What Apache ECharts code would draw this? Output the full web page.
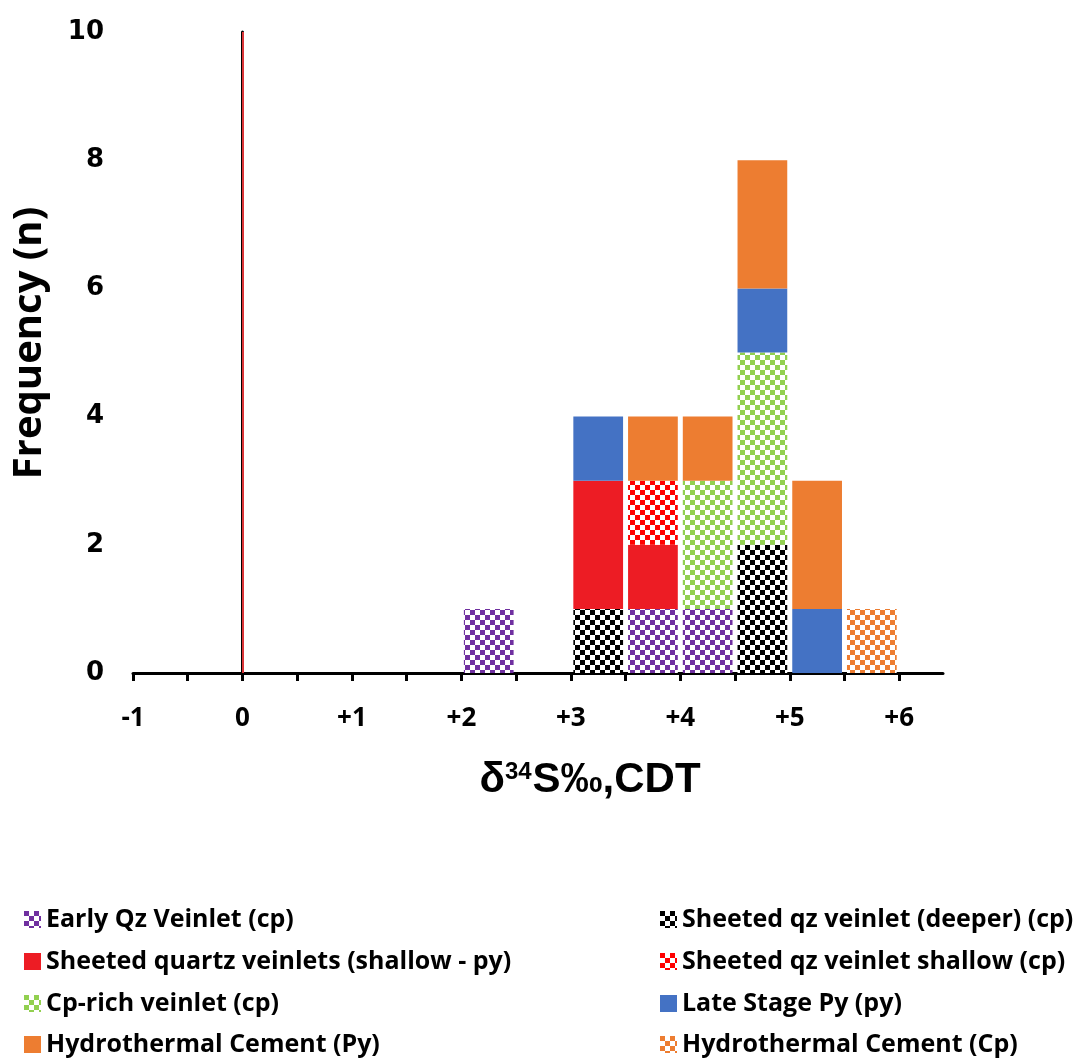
<!DOCTYPE html>
<html>
<head>
<meta charset="utf-8">
<script src="https://cdn.jsdelivr.net/npm/echarts@6/dist/echarts.min.js"></script>
<style>
  html, body { margin: 0; padding: 0; background: #ffffff; }
  #chart { width: 1080px; height: 1060px; }
</style>
</head>
<body>
<div id="chart"></div>
<script>
// δ34S histogram: lower edge of each 0.5‰ bin
const binStarts = [-1, -0.5, 0, 0.5, 1, 1.5, 2, 2.5, 3, 3.5, 4, 4.5, 5, 5.5, 6];
const binWidth = 0.5;

// Sample counts per bin for each group (stacked bottom to top in this order)
const earlyQzCp       = [0, 0, 0, 0, 0, 0, 1, 0, 0, 1, 1, 0, 0, 0, 0];
const sheetedDeeperCp = [0, 0, 0, 0, 0, 0, 0, 0, 1, 0, 0, 2, 0, 0, 0];
const sheetedShallowPy= [0, 0, 0, 0, 0, 0, 0, 0, 2, 1, 0, 0, 0, 0, 0];
const sheetedShallowCp= [0, 0, 0, 0, 0, 0, 0, 0, 0, 1, 0, 0, 0, 0, 0];
const cpRichCp        = [0, 0, 0, 0, 0, 0, 0, 0, 0, 0, 2, 3, 0, 0, 0];
const lateStagePy     = [0, 0, 0, 0, 0, 0, 0, 0, 1, 0, 0, 1, 1, 0, 0];
const hydroCementPy   = [0, 0, 0, 0, 0, 0, 0, 0, 0, 1, 1, 2, 2, 0, 0];
const hydroCementCp   = [0, 0, 0, 0, 0, 0, 0, 0, 0, 0, 0, 0, 0, 1, 0];

// Axis ticks and labels
const xLabelValues = [-1, 0, 1, 2, 3, 4, 5, 6];
const xTickValues = [-1, -0.5, 0, 0.5, 1, 1.5, 2, 2.5, 3, 3.5, 4, 4.5, 5, 5.5, 6];
const yTickValues = [0, 2, 4, 6, 8, 10];
const referenceValue = 0;

const groupNames = [
  'Early Qz Veinlet (cp)',
  'Sheeted qz veinlet (deeper) (cp)',
  'Sheeted quartz veinlets (shallow - py)',
  'Sheeted qz veinlet shallow (cp)',
  'Cp-rich veinlet (cp)',
  'Late Stage Py (py)',
  'Hydrothermal Cement (Py)',
  'Hydrothermal Cement (Cp)'
];
const groupCounts = [earlyQzCp, sheetedDeeperCp, sheetedShallowPy, sheetedShallowCp,
                     cpRichCp, lateStagePy, hydroCementPy, hydroCementCp];

// checkerboard fill used for the chalcopyrite (cp) groups
function checker(color) {
  const cell = 5;
  const c = document.createElement('canvas');
  c.width = cell * 2; c.height = cell * 2;
  const ctx = c.getContext('2d');
  ctx.fillStyle = '#ffffff';
  ctx.fillRect(0, 0, c.width, c.height);
  ctx.fillStyle = color;
  ctx.fillRect(0, 0, cell, cell);
  ctx.fillRect(cell, cell, cell, cell);
  return { image: c, repeat: 'repeat' };
}

const groupFills = [
  checker('#7030A0'),
  checker('#000000'),
  '#ED1C24',
  checker('#FF0000'),
  checker('#92D050'),
  '#4472C4',
  '#ED7D31',
  checker('#ED7D31')
];

// stack the groups bin by bin: [binStart, binEnd, base, top]
const running = binStarts.map(() => 0);
const series = groupNames.map((name, g) => {
  const data = [];
  groupCounts[g].forEach((n, i) => {
    if (n > 0) {
      data.push([binStarts[i], binStarts[i] + binWidth, running[i], running[i] + n]);
      running[i] += n;
    }
  });
  return {
    name: name,
    type: 'custom',
    itemStyle: { color: groupFills[g] },
    encode: { x: [0, 1], y: [2, 3] },
    data: data,
    renderItem: function (params, api) {
      const topLeft = api.coord([api.value(0), api.value(3)]);
      const botRight = api.coord([api.value(1), api.value(2)]);
      const inset = 2.5;
      return {
        type: 'rect',
        shape: {
          x: topLeft[0] + inset,
          y: topLeft[1],
          width: botRight[0] - topLeft[0] - 2 * inset,
          height: botRight[1] - topLeft[1]
        },
        style: api.style()
      };
    }
  };
});

// zero reference line
series.push({
  name: 'reference',
  type: 'custom',
  data: [],
  renderItem: function () { return null; },
  markLine: {
    silent: true,
    symbol: 'none',
    label: { show: false },
    lineStyle: { color: '#DA3538', width: 2, type: 'solid', opacity: 1 },
    data: [{ xAxis: referenceValue }]
  }
});

// legend: two columns of four entries, one legend block per entry
const legendText = { fontFamily: 'Open Sans', fontWeight: 'bold', fontSize: 25, lineHeight: 25, color: '#000' };
const legendColumnsLeft = [24, 660];
const legendRowsTop = [907, 949, 991, 1032];
const legends = groupNames.map((name, g) => ({
  orient: 'horizontal',
  left: legendColumnsLeft[g % 2],
  top: legendRowsTop[Math.floor(g / 2)],
  padding: 0,
  itemWidth: 17, itemHeight: 17, itemTextGap: 7,
  icon: 'rect', textStyle: legendText,
  data: [name]
}));

const chart = echarts.init(document.getElementById('chart'), null, { renderer: 'canvas' });
chart.setOption({
  animation: false,
  backgroundColor: '#ffffff',
  grid: { left: 133, right: 137, top: 32, bottom: 387, containLabel: false },
  xAxis: {
    type: 'value',
    min: -1,
    max: 6.4,
    interval: 0.5,
    splitLine: { show: false },
    axisLine: { show: true, onZero: false, lineStyle: { color: '#000', width: 3 } },
    axisTick: { show: true, length: 8, inside: false, lineStyle: { color: '#000', width: 3 }, customValues: xTickValues },
    axisLabel: {
      customValues: xLabelValues,
      margin: 33,
      fontFamily: 'Open Sans', fontWeight: 'bold', fontSize: 26, color: '#000',
      formatter: v => (v > 0 ? '+' + v : String(v))
    }
  },
  yAxis: {
    type: 'value',
    min: 0,
    max: 10,
    interval: 2,
    splitLine: { show: false },
    axisLine: { show: true, lineStyle: { color: '#000', width: 3 } },
    axisTick: { show: false },
    axisLabel: {
      customValues: yTickValues,
      margin: 29,
      fontFamily: 'DejaVu Sans', fontWeight: 'bold', fontSize: 26, color: '#000'
    }
  },
  legend: legends,
  graphic: [
    {
      type: 'text',
      x: 30, y: 343,
      rotation: Math.PI / 2,
      style: {
        text: 'Frequency (n)',
        fontFamily: 'Open Sans', fontWeight: 'bold', fontSize: 40, fill: '#000',
        align: 'center', verticalAlign: 'middle'
      }
    },
    {
      type: 'text',
      x: 590, y: 780,
      style: {
        text: '{m|δ}{s|34}{m|S‰,CDT}',
        align: 'center', verticalAlign: 'middle',
        rich: {
          m: { fontFamily: 'Liberation Sans', fontWeight: 'bold', fontSize: 42, fill: '#000', lineHeight: 46 },
          s: { fontFamily: 'Liberation Sans', fontWeight: 'bold', fontSize: 24, fill: '#000', lineHeight: 46, verticalAlign: 'top', padding: [3, 1, 0, 0] }
        }
      }
    }
  ],
  series: series
});
</script>
</body>
</html>
